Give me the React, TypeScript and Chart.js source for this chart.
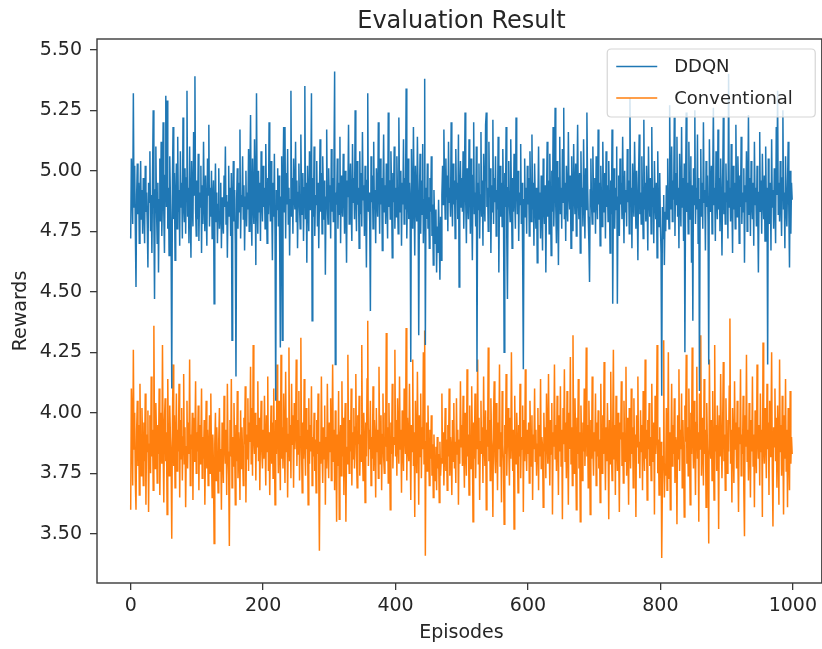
import React, { useEffect, useRef } from "react";
import { Chart, registerables } from "chart.js";

Chart.register(...registerables);

const chartTitle = "Evaluation Result";
const xLabel = "Episodes";
const yLabel = "Rewards";
const seriesNames = ["DDQN", "Conventional"];
const seriesColors = ["#1f77b4", "#ff7f0e"];
const xTicks = [0, 200, 400, 600, 800, 1000];
const yTicks = [3.5, 3.75, 4.0, 4.25, 4.5, 4.75, 5.0, 5.25, 5.5];

const ddqnRewards = [
  4.72,5.05,4.95,4.78,5.32,4.85,5.02,4.76,4.52,4.90,5.03,4.82,4.95,4.70,4.88,5.04,4.80,4.92,4.74,4.97,
  4.86,4.70,5.02,4.83,4.91,4.78,4.60,4.95,4.87,5.08,4.75,4.90,4.66,4.98,5.25,4.80,4.47,4.92,5.10,4.84,
  4.70,4.95,4.58,4.88,5.05,4.79,5.12,4.73,4.90,5.20,4.82,4.66,4.98,5.31,4.85,5.29,4.76,4.93,4.65,5.06,
  4.88,4.72,4.10,4.95,5.18,4.80,4.99,4.63,4.87,5.03,4.76,5.14,4.83,4.92,4.69,5.08,4.85,4.95,4.72,5.22,
  4.86,4.79,5.01,4.74,4.97,5.33,4.81,4.93,4.70,5.10,4.85,4.64,5.04,4.88,4.77,5.16,4.90,5.39,4.84,4.73,
  4.96,4.80,5.07,4.71,4.91,4.85,5.02,4.66,4.94,4.78,5.12,4.87,4.75,4.98,4.83,4.69,5.05,4.90,5.19,4.77,
  4.93,4.81,5.00,4.72,4.88,4.96,4.45,4.84,5.03,4.79,4.91,4.70,4.86,5.01,4.76,4.82,4.95,4.68,4.89,4.80,
  4.74,4.98,4.85,5.10,4.78,4.90,4.64,4.87,5.02,4.81,4.93,4.73,4.99,4.30,4.86,5.04,4.79,4.92,4.70,4.15,
  4.88,5.01,4.76,4.95,4.83,5.17,4.72,4.90,4.85,5.06,4.80,4.94,4.67,4.89,5.00,4.77,4.91,4.84,5.09,4.75,
  4.96,5.23,4.82,4.69,5.05,4.88,4.78,5.13,4.92,4.61,5.32,4.86,4.74,5.00,4.83,4.95,4.71,5.08,4.89,4.79,
  5.02,4.85,4.93,4.76,5.11,4.88,4.70,4.97,4.82,5.20,4.90,4.79,5.04,4.86,4.63,4.95,4.81,5.07,4.74,4.05,
  4.92,4.84,5.01,4.77,4.98,4.69,4.27,4.89,5.06,4.30,4.94,5.18,4.83,5.18,4.72,4.99,4.86,5.09,4.78,4.93,
  4.65,4.88,5.33,4.81,4.97,4.74,5.05,4.90,4.84,5.12,4.79,4.96,4.68,4.91,5.03,4.85,4.76,5.15,4.89,4.82,
  4.99,4.71,4.93,5.35,4.80,4.95,4.62,5.02,4.87,4.75,5.08,4.84,4.92,5.32,4.38,4.97,4.81,5.10,4.73,4.90,
  4.86,5.04,4.77,4.95,4.68,4.88,5.13,4.83,4.99,4.74,5.06,4.91,4.80,4.96,4.57,4.89,5.17,4.85,4.78,5.01,
  4.87,4.94,4.72,5.09,4.83,4.97,4.79,5.02,5.41,4.20,4.91,4.86,5.05,4.76,4.95,4.82,5.14,4.70,4.98,4.88,
  4.81,5.07,4.93,4.74,5.00,4.85,4.62,4.96,4.89,5.19,4.78,4.92,5.03,4.84,4.71,5.11,4.87,4.97,4.80,5.25,
  4.90,4.75,5.04,4.86,4.93,4.68,5.08,4.82,4.99,4.77,5.16,4.88,4.94,4.73,5.02,4.85,4.60,4.96,5.32,4.83,
  4.91,4.79,4.42,5.06,4.87,4.98,4.76,5.12,4.84,4.92,4.70,5.01,4.89,4.81,5.20,4.95,4.74,5.05,4.86,4.97,
  4.67,4.90,5.15,4.83,4.94,4.78,5.03,4.88,4.72,5.24,4.85,4.96,4.80,5.08,4.91,4.64,4.99,4.87,5.10,4.76,
  4.93,4.81,5.06,4.88,4.74,5.22,4.90,4.83,5.00,4.69,4.95,4.86,5.13,4.78,4.97,4.84,5.34,4.72,4.91,5.05,
  4.80,4.95,4.87,4.21,5.09,4.83,4.76,5.18,4.89,4.65,5.02,4.86,4.79,5.14,4.92,4.32,4.85,5.07,4.74,4.96,
  4.82,5.11,4.70,4.88,5.38,4.28,4.93,4.80,5.03,4.76,4.89,4.68,4.97,4.83,5.06,4.73,4.86,4.61,4.92,4.79,
  4.70,4.84,4.58,4.77,4.66,4.88,4.72,4.55,4.81,4.63,4.90,5.02,4.86,5.17,4.94,4.80,5.05,4.89,4.98,4.75,
  5.12,4.87,4.93,4.81,5.20,4.90,4.77,5.03,4.86,4.96,4.72,5.09,4.88,4.95,4.80,5.15,4.52,4.91,5.04,4.85,
  4.97,4.83,5.08,4.76,4.92,5.24,4.87,4.70,5.01,4.89,4.80,5.13,4.94,4.74,5.05,4.86,4.63,4.98,5.20,4.82,
  4.91,4.77,5.10,4.17,4.95,4.84,5.03,4.72,4.90,5.16,4.81,4.96,4.69,5.07,4.88,4.79,5.19,5.24,4.85,4.93,
  4.75,5.12,4.89,5.01,4.66,4.94,4.83,5.21,4.78,4.97,4.87,5.06,4.73,4.92,4.84,5.14,4.58,4.90,5.02,4.81,
  4.95,4.77,5.09,4.88,4.25,4.99,4.85,5.18,4.72,4.47,4.93,5.04,4.86,4.79,5.13,4.90,4.68,4.97,4.83,5.07,
  4.89,4.76,5.22,4.94,4.82,5.00,4.71,4.91,4.86,5.11,4.78,4.95,4.64,4.18,4.88,5.05,4.81,4.93,4.74,5.02,
  4.86,4.97,4.73,5.08,4.90,4.79,5.15,4.84,4.95,4.69,5.03,4.88,4.76,4.93,4.62,4.85,5.10,4.80,4.91,4.72,
  4.98,4.84,4.67,5.05,4.87,4.78,4.94,4.58,4.89,5.12,4.81,4.96,4.74,5.07,4.88,4.65,5.00,4.83,5.18,4.77,
  4.92,5.26,4.85,4.70,5.04,4.89,4.61,4.97,5.14,4.82,4.93,4.76,5.09,4.87,5.26,4.80,4.95,4.71,5.02,4.88,
  4.79,5.16,4.91,4.84,4.98,4.68,5.06,4.86,4.75,5.11,4.90,4.82,5.03,4.73,4.94,5.19,4.87,4.80,4.99,4.66,
  5.08,4.85,4.93,4.77,5.13,4.89,4.72,5.01,4.84,5.24,4.95,4.81,4.70,4.54,4.92,5.05,4.86,4.78,5.10,4.89,
  4.83,4.97,4.74,5.06,4.90,4.80,5.17,4.86,4.95,4.69,5.02,4.88,4.77,5.12,4.91,4.83,4.99,4.72,5.08,4.85,
  4.94,4.79,5.04,4.87,4.66,4.96,4.82,5.17,4.45,4.90,5.01,4.76,4.93,4.84,5.10,4.45,4.89,4.98,4.73,5.05,
  4.86,4.95,4.80,5.14,4.88,4.70,5.00,4.83,4.92,4.77,5.09,4.87,4.96,4.74,5.30,4.85,4.93,4.68,5.03,4.89,
  4.81,5.12,4.94,4.76,5.00,4.86,4.63,4.97,5.15,4.82,4.91,4.78,5.06,4.88,4.72,5.21,4.84,4.95,4.79,5.02,
  4.87,4.67,5.10,4.90,4.81,4.97,4.74,5.18,4.85,4.93,4.70,5.04,4.88,4.80,4.95,4.64,5.08,4.86,4.77,4.99,
  4.78,4.66,4.07,4.85,4.72,4.90,4.61,4.83,4.75,4.94,4.80,5.05,4.87,4.76,5.27,4.91,4.84,5.10,4.79,4.96,
  4.88,5.22,4.73,4.99,4.86,5.14,4.81,4.93,4.68,5.07,4.90,4.77,5.18,4.85,4.97,4.71,5.03,4.25,4.92,5.24,
  4.83,4.95,4.74,5.12,4.89,4.80,5.06,4.62,4.94,4.38,5.01,4.86,5.25,4.78,4.93,4.84,5.15,4.70,4.97,4.09,
  4.88,5.09,4.81,4.95,4.76,5.20,4.87,4.92,4.67,5.04,4.85,4.98,4.79,4.20,5.13,4.90,4.83,5.02,4.74,4.96,
  5.26,4.86,4.93,4.71,5.08,4.89,4.80,5.17,4.84,4.97,4.75,5.05,4.88,4.65,4.94,5.22,4.82,4.91,4.78,5.03,
  4.87,4.96,4.72,5.40,4.85,4.93,4.79,5.11,4.88,4.66,5.02,4.84,4.95,4.76,5.19,4.89,4.81,5.06,4.92,4.70,
  4.98,4.85,5.14,4.78,4.91,4.83,5.01,4.62,4.94,4.87,5.08,4.75,4.90,5.23,4.82,4.97,4.73,5.04,4.88,4.80,
  4.95,4.69,5.12,4.86,4.93,4.77,5.02,4.84,4.58,4.91,5.16,4.83,4.96,4.74,5.07,4.89,4.80,4.98,4.71,5.10,
  4.86,4.93,4.20,5.05,4.88,4.78,4.95,4.67,5.13,4.85,4.92,4.76,5.01,4.87,4.70,5.18,4.90,5.33,4.82,4.95,
  4.79,5.04,4.88,4.73,4.97,5.25,4.84,4.91,4.68,5.06,4.86,4.77,4.94,5.12,4.83,4.60,5.00,4.74,4.95,4.88,
];

const conventionalRewards = [
  3.60,4.10,3.98,3.70,4.26,3.85,4.00,3.72,3.60,3.93,4.05,3.78,3.95,3.66,4.12,3.83,3.74,4.02,3.88,3.70,
  3.96,3.80,4.08,3.62,3.91,3.84,4.01,3.59,3.87,3.99,3.75,4.15,3.82,3.93,3.68,4.36,3.86,3.77,4.04,3.90,
  3.71,3.95,3.83,4.10,3.66,3.89,4.00,3.79,4.28,3.85,3.63,3.97,4.06,3.80,3.92,3.58,4.14,3.87,3.74,4.03,
  3.90,3.82,3.48,3.95,4.20,3.78,3.99,3.69,3.88,4.08,3.76,3.93,3.84,4.12,3.65,3.97,3.81,4.02,3.72,3.90,
  4.16,3.79,3.94,3.61,3.86,4.05,3.77,3.96,3.83,4.22,3.70,3.91,3.85,4.00,3.64,3.98,3.80,3.89,4.13,3.75,
  3.92,3.84,4.03,3.68,3.95,3.79,3.88,4.10,3.73,3.90,3.81,3.97,3.62,3.86,4.05,3.77,3.93,3.70,3.84,3.99,
  3.75,4.08,3.82,3.65,3.91,3.78,3.46,3.87,4.00,3.72,3.94,3.80,3.67,3.89,4.02,3.76,3.85,3.60,3.96,3.83,
  3.71,4.07,3.88,3.79,3.93,3.66,4.12,3.84,3.74,3.45,3.97,3.82,4.14,3.69,3.90,3.78,4.04,3.86,3.62,3.95,
  3.80,4.09,3.73,3.92,3.85,3.64,4.01,3.77,3.94,3.83,3.70,3.98,3.87,4.11,3.63,3.91,3.81,4.06,3.76,3.96,
  3.88,4.19,3.79,4.02,3.74,4.28,3.90,3.83,4.00,3.72,3.95,3.86,4.13,3.80,3.98,3.68,3.91,4.05,3.84,3.77,
  3.93,3.81,4.07,3.87,3.70,3.99,3.84,4.15,3.76,3.92,3.66,3.88,4.03,3.79,3.96,3.73,4.10,3.85,3.62,3.97,
  3.83,4.20,3.90,3.75,4.05,3.86,3.68,4.24,3.81,3.94,3.77,4.08,3.89,3.71,4.17,3.84,3.98,3.65,3.91,4.27,
  3.80,3.95,3.73,4.12,3.87,3.99,3.69,4.04,3.85,3.92,4.22,3.78,3.97,3.83,4.09,3.72,3.90,4.31,3.86,3.67,
  3.96,3.81,4.14,3.88,3.74,4.02,3.85,3.93,3.62,4.06,3.79,3.95,3.84,4.11,3.70,3.90,3.82,4.00,3.76,3.89,
  3.67,3.97,3.83,4.08,3.74,3.43,3.88,3.79,4.15,3.85,3.71,3.94,3.81,4.03,3.62,3.90,3.77,4.12,3.86,3.73,
  3.96,3.84,4.06,3.72,3.89,4.20,3.80,3.93,3.68,4.01,3.85,3.55,3.91,3.78,4.09,3.56,3.87,3.95,3.74,4.13,
  3.82,3.98,3.66,3.90,4.04,3.55,3.86,3.79,4.24,3.88,3.75,3.97,3.84,4.10,3.70,3.92,3.81,4.02,3.77,3.94,
  4.16,3.83,3.69,3.99,3.87,4.07,3.74,3.91,3.80,4.28,3.86,3.72,4.00,3.89,3.63,3.96,3.82,4.14,4.38,3.78,
  3.93,3.85,4.05,3.70,3.90,3.81,4.11,3.76,3.97,3.88,3.65,4.02,3.84,3.93,3.73,4.19,3.87,3.79,3.99,3.68,
  3.91,4.08,3.82,3.75,4.00,3.86,4.33,3.80,3.94,3.71,4.04,3.85,3.60,3.96,3.83,4.12,3.77,3.90,3.87,4.26,
  3.82,3.97,3.74,4.06,3.88,3.79,4.15,3.85,3.93,3.67,4.01,3.86,3.76,4.10,3.91,3.83,4.35,3.72,3.98,3.87,
  3.80,4.12,3.89,3.64,3.95,3.84,4.22,3.78,3.92,3.57,4.05,3.86,3.75,4.17,3.90,3.62,3.99,3.82,4.08,3.73,
  3.94,3.85,4.25,3.79,4.34,3.41,3.88,3.96,3.76,4.03,3.84,3.70,3.93,3.81,3.99,3.74,3.87,3.65,3.91,3.79,
  3.72,3.86,3.68,3.90,3.77,3.83,3.63,3.88,3.74,3.81,4.08,3.79,3.92,3.70,3.85,4.02,3.76,3.89,3.68,3.95,
  3.82,4.10,3.74,3.90,3.85,3.66,3.97,3.80,4.04,3.77,3.88,3.71,4.06,3.83,3.93,3.62,3.89,3.79,4.13,3.86,
  3.95,3.78,4.07,3.84,3.69,4.00,3.87,3.74,4.18,3.82,3.91,3.66,4.03,3.86,3.77,4.11,3.89,3.55,3.96,3.81,
  4.08,3.73,3.92,3.85,4.22,3.79,3.98,3.64,3.88,4.05,3.83,3.94,3.71,4.15,3.87,3.78,4.01,3.60,3.93,3.86,
  4.27,3.80,3.97,3.72,4.06,3.89,3.84,3.57,3.99,4.13,3.82,3.75,4.04,3.90,3.68,3.96,3.85,4.20,3.78,3.92,
  3.63,4.09,3.87,3.80,3.54,3.95,3.83,4.16,3.74,3.91,4.02,3.86,3.70,3.98,3.81,4.25,3.89,3.76,3.93,3.52,
  4.07,3.84,3.79,4.00,3.88,3.67,3.95,3.82,4.12,3.73,3.90,3.85,4.03,3.59,3.97,3.80,4.18,3.87,3.76,3.93,
  3.83,3.96,3.71,4.05,3.88,3.78,3.99,3.64,3.91,3.85,4.10,3.80,3.93,3.74,3.87,4.02,3.68,3.95,3.82,4.14,
  3.77,3.90,3.86,3.61,4.00,3.84,3.94,3.73,4.08,3.89,3.79,4.16,3.87,3.70,3.97,3.83,4.04,3.58,3.92,3.86,
  4.20,3.81,3.95,3.76,4.07,3.89,3.66,3.99,3.84,4.11,3.78,3.93,3.56,4.02,3.87,4.18,3.80,3.96,3.73,4.09,
  3.88,3.62,4.00,3.85,4.23,3.79,3.94,3.70,4.32,3.86,3.75,4.06,3.89,3.60,3.98,3.83,4.14,3.77,3.92,3.55,
  4.03,3.87,3.72,3.96,3.84,4.10,3.78,3.91,4.27,3.82,3.95,3.69,4.05,3.88,3.58,3.97,3.81,4.15,3.86,3.74,
  3.92,3.84,4.08,3.70,3.96,3.82,4.01,3.77,3.89,3.63,4.12,3.86,3.75,3.99,3.83,4.21,3.90,3.68,3.94,3.80,
  4.04,3.87,3.56,3.97,3.79,4.17,3.85,3.72,3.93,4.26,3.81,3.95,3.66,4.07,3.88,3.76,4.00,3.84,3.59,3.96,
  3.89,4.13,3.78,3.92,3.71,4.05,3.86,3.80,4.19,3.74,3.98,3.85,3.62,4.02,3.90,3.77,4.10,3.83,3.94,3.69,
  4.06,3.82,3.91,3.57,3.99,3.86,4.15,3.79,3.88,3.73,4.01,3.84,3.95,3.68,4.09,3.87,3.76,4.22,3.81,3.93,
  3.64,3.97,3.85,4.04,3.78,3.90,3.72,4.12,3.86,3.80,3.96,3.58,4.07,3.83,3.91,4.28,3.75,3.89,3.66,3.94,
  3.76,3.88,3.40,3.70,3.82,4.30,3.65,3.79,3.74,4.02,3.68,3.85,4.25,3.73,3.92,3.60,3.86,4.12,3.78,3.95,
  3.83,4.06,3.71,3.90,3.87,3.54,3.99,3.81,4.18,3.76,3.93,3.85,4.08,3.69,3.97,3.82,3.57,4.03,3.88,4.24,
  3.79,3.94,3.74,4.10,3.86,3.62,4.00,3.83,4.27,3.90,3.77,4.05,3.88,3.66,3.96,4.19,3.81,3.92,3.55,4.08,
  3.85,4.32,3.74,3.98,3.87,3.70,4.14,3.83,3.93,3.61,4.04,3.86,3.78,3.46,4.22,3.90,3.81,3.97,3.72,4.09,
  3.88,3.64,4.28,3.84,3.95,3.76,4.03,3.89,3.52,3.99,3.82,4.16,3.87,3.73,3.94,4.21,3.80,3.91,3.68,4.06,
  3.86,3.75,3.97,3.84,4.11,4.39,3.79,3.93,3.63,4.02,3.88,3.71,4.13,3.85,3.96,3.77,4.05,3.82,3.59,3.94,
  3.87,4.18,3.74,3.91,3.83,4.07,3.68,3.49,3.99,3.86,4.24,3.80,3.93,3.72,4.04,3.88,3.65,3.97,3.84,4.15,
  3.78,3.91,3.61,4.01,3.86,3.75,4.20,3.89,3.81,3.95,3.70,4.08,3.84,3.93,3.57,4.29,3.87,3.79,4.02,3.90,
  3.73,4.12,3.85,3.96,3.66,4.05,3.82,3.92,4.25,3.77,3.53,3.94,3.86,4.10,3.80,3.98,3.69,4.03,3.88,3.62,
  4.22,3.84,3.95,3.74,4.07,3.87,3.58,3.99,3.81,4.14,3.76,3.93,3.61,4.02,3.85,3.68,4.09,3.79,3.90,3.83,
];

const FONT = '"DejaVu Sans", sans-serif';
const TEXT = "#262626";
const SPINE = "#3a3a3a";
// matplotlib-like axis limits (5% margins)
const X_MIN = -50.9;
const X_MAX = 1043.8;
const X_AXES_RIGHT = 1048.95; // where the full axes box ends (outside the crop)
const Y_MIN = 3.297;
const Y_MAX = 5.544;

const decorPlugin = {
  id: "decor",
  afterDatasetsDraw(chart: any) {
    const { ctx, chartArea: a, scales } = chart;
    const xs = scales.x;
    ctx.save();
    // box spines
    ctx.strokeStyle = SPINE;
    ctx.lineWidth = 1.4;
    ctx.strokeRect(a.left, a.top, a.right - a.left, a.bottom - a.top);

    const centerX = xs.getPixelForValue((-49.95 + X_AXES_RIGHT) / 2);
    // title
    ctx.fillStyle = TEXT;
    ctx.font = `24px ${FONT}`;
    ctx.textAlign = "center";
    ctx.textBaseline = "alphabetic";
    ctx.fillText(chartTitle, centerX, a.top - 11);
    // x label
    ctx.font = `19px ${FONT}`;
    ctx.fillText(xLabel, centerX, a.bottom + 55);
    // y label
    ctx.save();
    ctx.translate(26, (a.top + a.bottom) / 2);
    ctx.rotate(-Math.PI / 2);
    ctx.fillText(yLabel, 0, 0);
    ctx.restore();

    // legend
    const axesRight = xs.getPixelForValue(X_AXES_RIGHT);
    const right = axesRight - 10;
    const top = a.top + 10;
    const w = 208;
    const h = 68;
    const left = right - w;
    const r = 4;
    ctx.beginPath();
    ctx.moveTo(left + r, top);
    ctx.lineTo(right - r, top);
    ctx.quadraticCurveTo(right, top, right, top + r);
    ctx.lineTo(right, top + h - r);
    ctx.quadraticCurveTo(right, top + h, right - r, top + h);
    ctx.lineTo(left + r, top + h);
    ctx.quadraticCurveTo(left, top + h, left, top + h - r);
    ctx.lineTo(left, top + r);
    ctx.quadraticCurveTo(left, top, left + r, top);
    ctx.closePath();
    ctx.fillStyle = "rgba(255,255,255,0.8)";
    ctx.fill();
    ctx.strokeStyle = "#d6d6d6";
    ctx.lineWidth = 1.2;
    ctx.stroke();

    ctx.font = `18px ${FONT}`;
    ctx.textAlign = "left";
    ctx.textBaseline = "middle";
    seriesNames.forEach((name, i) => {
      const y = top + 17.5 + i * 31.5;
      ctx.strokeStyle = seriesColors[i];
      ctx.lineWidth = 1.5;
      ctx.beginPath();
      ctx.moveTo(left + 9, y);
      ctx.lineTo(left + 50, y);
      ctx.stroke();
      ctx.fillStyle = TEXT;
      ctx.fillText(name, left + 67, y + 1);
    });
    ctx.restore();
  },
};

export default function App() {
  const canvasRef = useRef<HTMLCanvasElement | null>(null);

  useEffect(() => {
    document.body.style.margin = "0";
    document.body.style.overflow = "hidden";
    const canvas = canvasRef.current;
    if (!canvas) return;

    const toPoints = (vals: number[]) => vals.map((v, i) => ({ x: i, y: v }));

    const chart = new Chart(canvas, {
      type: "line",
      data: {
        datasets: [
          {
            label: seriesNames[0],
            data: toPoints(ddqnRewards),
            borderColor: seriesColors[0],
            borderWidth: 1.5,
            pointRadius: 0,
            tension: 0,
            fill: false,
          },
          {
            label: seriesNames[1],
            data: toPoints(conventionalRewards),
            borderColor: seriesColors[1],
            borderWidth: 1.5,
            pointRadius: 0,
            tension: 0,
            fill: false,
          },
        ],
      },
      options: {
        responsive: false,
        animation: false,
        devicePixelRatio: 1,
        parsing: false,
        normalized: true,
        layout: { padding: { top: 39, left: 0, right: 0, bottom: 0 } },
        plugins: {
          legend: { display: false },
          title: { display: false },
          tooltip: { enabled: false },
        },
        scales: {
          x: {
            type: "linear",
            min: X_MIN,
            max: X_MAX,
            afterFit: (s: any) => {
              s.height = 66;
            },
            afterBuildTicks: (s: any) => {
              s.ticks = xTicks.map((v) => ({ value: v }));
            },
            grid: {
              drawOnChartArea: false,
              drawTicks: true,
              tickLength: 7,
              color: SPINE,
              lineWidth: 1.3,
            },
            border: { display: false },
            ticks: {
              padding: 5,
              maxRotation: 0,
              autoSkip: false,
              color: TEXT,
              font: { family: FONT, size: 19 },
              callback: (v: any) => String(v),
            },
          },
          y: {
            type: "linear",
            min: Y_MIN,
            max: Y_MAX,
            afterFit: (s: any) => {
              s.width = 97;
            },
            afterBuildTicks: (s: any) => {
              s.ticks = yTicks.map((v) => ({ value: v }));
            },
            grid: {
              drawOnChartArea: false,
              drawTicks: true,
              tickLength: 7,
              color: SPINE,
              lineWidth: 1.3,
            },
            border: { display: false },
            ticks: {
              padding: 8,
              autoSkip: false,
              color: TEXT,
              font: { family: FONT, size: 19 },
              callback: (v: any) => Number(v).toFixed(2),
            },
          },
        },
      },
      plugins: [decorPlugin],
    });

    return () => chart.destroy();
  }, []);

  return (
    <div style={{ width: 822, height: 649, overflow: "hidden", background: "#fff" }}>
      <canvas ref={canvasRef} width={822} height={649} style={{ display: "block" }} />
    </div>
  );
}
